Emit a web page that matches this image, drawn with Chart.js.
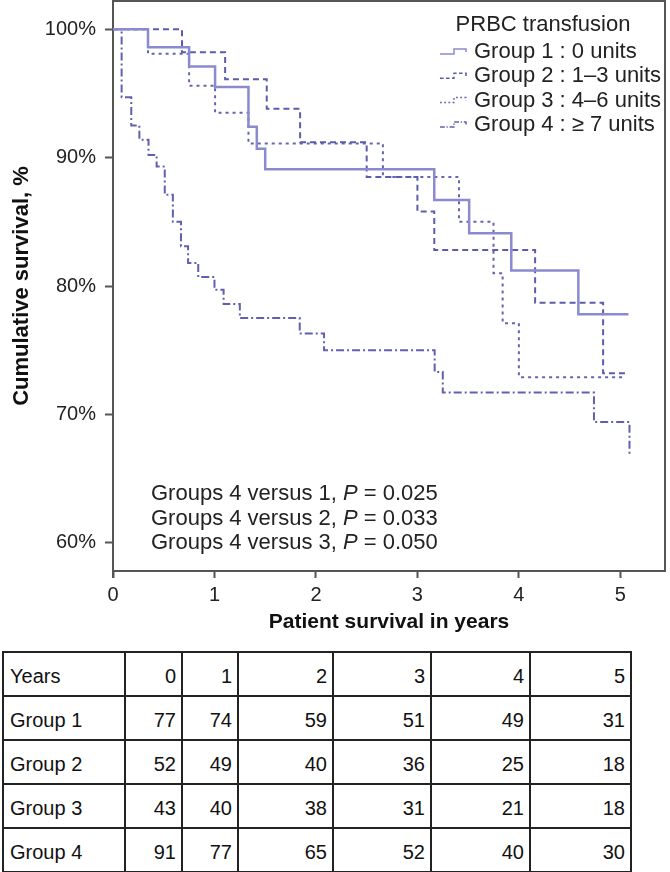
<!DOCTYPE html>
<html>
<head>
<meta charset="utf-8">
<script src="https://cdn.jsdelivr.net/npm/chart.js@4.4.0/dist/chart.umd.min.js"></script>
<style>
  body { margin: 0; background: #fff; width: 670px; height: 872px; overflow: hidden;
         font-family: "Liberation Sans", Arial, sans-serif; }
  #chart-wrap { position: absolute; left: 0; top: 0; width: 670px; height: 640px; }
  #risk-table { position: absolute; left: 2px; top: 651px; border-collapse: collapse;
                table-layout: fixed; font-size: 20px; color: #111; }
  #risk-table td { border: 2px solid #222; height: 44px; padding: 4px 5px 0 5px;
                   text-align: right; box-sizing: border-box; }
  #risk-table td:first-child { text-align: left; padding-left: 6px; }
</style>
</head>
<body>
<div id="chart-wrap"><canvas id="km-chart" width="670" height="640"></canvas></div>
<table id="risk-table"></table>

<script>
// Courbes de survie (temps en années, survie en %)
const g1Years = [0, 0.345, 0.75, 1.006, 1.335, 1.417, 1.5, 3.166, 3.51, 3.925, 4.586, 5.08];
const g1Surv  = [100, 98.6, 97.1, 95.5, 92.4, 90.7, 89.1, 86.7, 84.1, 81.2, 77.8, 77.8];

const g2Years = [0, 0.68, 1.105, 1.515, 1.844, 2.5, 3.0, 3.166, 4.16, 4.83, 5.08];
const g2Surv  = [100, 98.2, 96.1, 93.8, 91.2, 88.5, 85.8, 82.8, 78.7, 73.2, 73.2];

const g3Years = [0, 0.345, 0.75, 1.006, 1.335, 2.66, 3.41, 3.75, 3.84, 4.0, 5.03];
const g3Surv  = [100, 98.1, 95.6, 93.5, 91.1, 88.5, 85.0, 81.0, 77.1, 72.9, 72.9];

const g4Years = [0, 0.085, 0.18, 0.26, 0.35, 0.43, 0.51, 0.59, 0.67, 0.74, 0.84, 1.0, 1.09, 1.25, 1.84, 2.08, 3.17, 3.25, 4.74, 5.09];
const g4Surv  = [100, 94.7, 92.5, 91.4, 90.2, 89.3, 87.1, 85.0, 83.1, 81.8, 80.7, 79.7, 78.6, 77.5, 76.3, 75.0, 73.3, 71.7, 69.4, 66.9];

// Axes
const xTicks = [0, 1, 2, 3, 4, 5];
const yTicks = [60, 70, 80, 90, 100];

// Légende et annotations
const legendTitle = "PRBC transfusion";
const legendLabels = ["Group 1 : 0 units", "Group 2 : 1\u20133 units", "Group 3 : 4\u20136 units", "Group 4 : \u2265 7 units"];
const pLabels = ["Groups 4 versus 1, ", "Groups 4 versus 2, ", "Groups 4 versus 3, "];
const pValues = ["0.025", "0.033", "0.050"];

// Tableau des patients à risque
const tableYears = [0, 1, 2, 3, 4, 5];
const groupNames = ["Group 1", "Group 2", "Group 3", "Group 4"];
const risk1 = [77, 74, 59, 51, 49, 31];
const risk2 = [52, 49, 40, 36, 25, 18];
const risk3 = [43, 40, 38, 31, 21, 18];
const risk4 = [91, 77, 65, 52, 40, 30];

const FONT = '"Liberation Sans", Arial, sans-serif';

function toPoints(xs, ys) {
    return xs.map((x, i) => ({ x: x, y: ys[i] }));
}

const datasets = [
    { label: legendLabels[0], data: toPoints(g1Years, g1Surv), borderColor: "#8a8ad0", borderWidth: 2.5, borderDash: [] },
    { label: legendLabels[1], data: toPoints(g2Years, g2Surv), borderColor: "#5c5cad", borderWidth: 2, borderDash: [6, 4] },
    { label: legendLabels[2], data: toPoints(g3Years, g3Surv), borderColor: "#6464b3", borderWidth: 2, borderDash: [3, 4] },
    { label: legendLabels[3], data: toPoints(g4Years, g4Surv), borderColor: "#6060b0", borderWidth: 2, borderDash: [8, 3, 2, 3] }
].map(d => Object.assign(d, { stepped: "before", pointRadius: 0, fill: false, tension: 0 }));

// Cadre, légende et valeurs de P dessinés par-dessus
const overlayPlugin = {
    id: "overlay",
    afterDatasetsDraw(chart) {
        const ctx = chart.ctx;
        const area = chart.chartArea;
        ctx.save();

        // cadre haut / droite, prolongement de l'axe gauche
        ctx.strokeStyle = "#555";
        ctx.lineWidth = 2;
        ctx.setLineDash([]);
        ctx.beginPath();
        ctx.moveTo(area.left, area.top);
        ctx.lineTo(area.right, area.top);
        ctx.lineTo(area.right, area.bottom);
        ctx.moveTo(area.left, area.bottom);
        ctx.lineTo(area.left, area.bottom + 7);
        ctx.stroke();

        // légende
        ctx.fillStyle = "#222";
        ctx.font = "22px " + FONT;
        ctx.textBaseline = "middle";
        ctx.textAlign = "center";
        ctx.fillText(legendTitle, area.right - 122, 25);
        ctx.textAlign = "left";
        legendLabels.forEach((txt, i) => {
            const y = 52 + i * 24.3;
            const ds = chart.data.datasets[i];
            ctx.strokeStyle = ds.borderColor;
            ctx.lineWidth = 1.5;
            ctx.setLineDash(ds.borderDash.map(v => v * 0.6));
            const x0 = area.right - 225;
            ctx.beginPath();
            ctx.moveTo(x0, y + 2);
            ctx.lineTo(x0 + 14, y + 2);
            ctx.lineTo(x0 + 14, y - 3);
            ctx.lineTo(x0 + 26, y - 3);
            ctx.lineTo(x0 + 26, y);
            ctx.stroke();
            ctx.setLineDash([]);
            ctx.fillStyle = "#222";
            ctx.fillText(txt, area.right - 191, y);
        });

        // valeurs de P
        pLabels.forEach((txt, i) => {
            const y = 494 + i * 24.5;
            let x = area.left + 38;
            ctx.font = "22px " + FONT;
            ctx.fillText(txt, x, y);
            x += ctx.measureText(txt).width;
            ctx.font = "italic 22px " + FONT;
            ctx.fillText("P", x, y);
            x += ctx.measureText("P").width;
            ctx.font = "22px " + FONT;
            ctx.fillText(" = " + pValues[i], x, y);
        });
        ctx.restore();
    }
};

const chartInstance = new Chart(document.getElementById("km-chart").getContext("2d"), {
    type: "line",
    data: { datasets: datasets },
    options: {
        responsive: false,
        animation: false,
        layout: { padding: { top: 1, right: 5, left: 0, bottom: 0 } },
        plugins: { legend: { display: false }, tooltip: { enabled: false } },
        scales: {
            x: {
                type: "linear",
                min: 0,
                max: 5.44,
                afterFit(scale) { scale.height = 69; scale.paddingLeft = 0; scale.paddingRight = 0; },
                afterBuildTicks(scale) { scale.ticks = xTicks.map(v => ({ value: v })); },
                grid: { drawOnChartArea: false, drawTicks: true, tickLength: 7, tickColor: "#555", tickWidth: 2 },
                border: { display: true, color: "#555", width: 2 },
                ticks: { color: "#222", font: { family: FONT, size: 20 }, padding: 5, maxRotation: 0 },
                title: { display: true, text: "Patient survival in years", color: "#111",
                         font: { family: FONT, size: 21, weight: "bold" }, padding: { top: 0, bottom: 5 } }
            },
            y: {
                type: "linear",
                min: 57.8,
                max: 102.2,
                afterFit(scale) { scale.width = 113; scale.paddingTop = 0; scale.paddingBottom = 0; },
                afterBuildTicks(scale) { scale.ticks = yTicks.map(v => ({ value: v })); },
                grid: { drawOnChartArea: false, drawTicks: true, tickLength: 8, tickColor: "#555", tickWidth: 2 },
                border: { display: true, color: "#555", width: 2 },
                ticks: { color: "#222", font: { family: FONT, size: 20 }, padding: 9,
                         callback: v => v + "%" },
                title: { display: true, text: "Cumulative survival, %", color: "#111",
                         font: { family: FONT, size: 22, weight: "bold" }, padding: { top: 9, bottom: 0 } }
            }
        }
    },
    plugins: [overlayPlugin]
});

// Construction du tableau
const colWidths = [122, 57, 56, 95, 98, 99, 101];
const table = document.getElementById("risk-table");
const colgroup = document.createElement("colgroup");
colWidths.forEach(w => {
    const col = document.createElement("col");
    col.style.width = w + "px";
    colgroup.appendChild(col);
});
table.appendChild(colgroup);

const rows = [["Years"].concat(tableYears)];
[risk1, risk2, risk3, risk4].forEach((r, i) => rows.push([groupNames[i]].concat(r)));
rows.forEach(r => {
    const tr = document.createElement("tr");
    r.forEach(v => {
        const td = document.createElement("td");
        td.textContent = v;
        tr.appendChild(td);
    });
    table.appendChild(tr);
});
</script>
</body>
</html>
